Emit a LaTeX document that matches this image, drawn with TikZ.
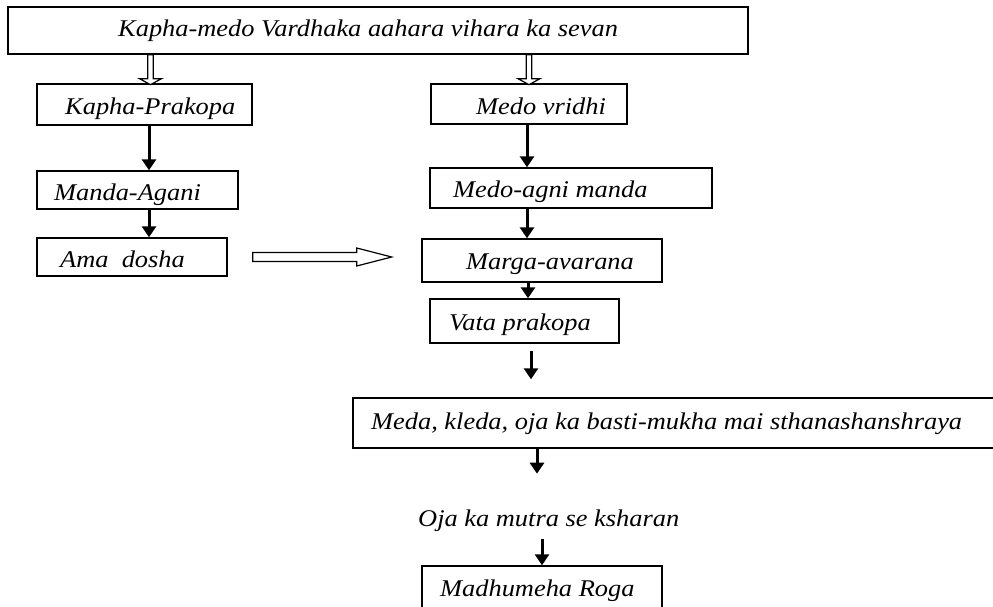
\documentclass[tikz,border=0pt]{standalone}
\usepackage{fontspec}
\setmainfont{Liberation Serif}[FakeStretch=1.1]
\usetikzlibrary{arrows.meta,calc}
\begin{document}
\begin{tikzpicture}[x=1pt,y=-1pt,
  box/.style={draw=black,line width=1.4pt,rectangle,inner sep=0pt,fill=none},
  txt/.style={inner sep=0pt,anchor=base west,font=\fontsize{24}{28}\selectfont\itshape},
  sarrow/.style={line width=3pt,-{Triangle[length=11pt,width=14pt]}},
  hollow/.style={draw=black,line width=1.2pt,fill=white,line join=miter}]
\useasboundingbox (0,0) rectangle (993,607);
% boxes
\node[box,minimum width=740pt,minimum height=47pt] (top) at (378,30.5) {};
\node[box,minimum width=215pt,minimum height=41pt] (kp) at (144.5,104.5) {};
\node[box,minimum width=196pt,minimum height=40pt] (mv) at (529,104) {};
\node[box,minimum width=201pt,minimum height=38pt] (ma) at (137.5,190) {};
\node[box,minimum width=282pt,minimum height=40pt] (mam) at (571,188) {};
\node[box,minimum width=190pt,minimum height=38pt] (ad) at (132,257) {};
\node[box,minimum width=240pt,minimum height=43pt] (mav) at (542,260.5) {};
\node[box,minimum width=189pt,minimum height=44pt] (vp) at (524.5,321) {};
\node[box,minimum width=650pt,minimum height=50pt] (meda) at (678,423) {};
\node[box,minimum width=240pt,minimum height=50pt] (madh) at (542,591) {};
% texts
\node[txt] (topt) at (118,37) {Kapha-medo Vardhaka aahara vihara ka sevan};
\node[txt] (kpt) at (65,115) {Kapha-Prakopa};
\node[txt] (mvt) at (476,115) {Medo vridhi};
\node[txt] (mat) at (54,200) {Manda-Agani};
\node[txt] (adt) at (60,267) {Ama\ \ dosha};
\node[txt] (mamt) at (453,197) {Medo-agni manda};
\node[txt] (mavt) at (466,269) {Marga-avarana};
\node[txt] (vpt) at (449,330) {Vata prakopa};
\node[txt] (medat) at (371,429) {Meda, kleda, oja ka basti-mukha mai sthanashanshraya};
\node[txt] (oja) at (418,526) {Oja ka mutra se ksharan};
\node[txt] (madht) at (440,596) {Madhumeha Roga};
% x positions of connectors
\coordinate (xL) at (149,0);
\coordinate (xH1) at (150.5,0);
\coordinate (xH2) at (529,0);
\coordinate (xR1) at (527,0);
\coordinate (xR2) at (528,0);
\coordinate (xR3) at (531,0);
\coordinate (xR4) at (537,0);
\coordinate (xR5) at (542,0);
% hollow arrows
\draw[hollow] (top.south -| xH1) ++(-2.8,0) -- ++(0,24) -- ++(-8.2,0) -- ++(11,6) -- ++(11,-6) -- ++(-8.2,0) -- ++(0,-24) -- cycle;
\draw[hollow] (top.south -| xH2) ++(-2.8,0) -- ++(0,24) -- ++(-8.2,0) -- ++(11,6) -- ++(11,-6) -- ++(-8.2,0) -- ++(0,-24) -- cycle;
\draw[hollow] (ad.east) ++(25,-4.5) -- ++(104,0) -- ++(0,-4.5) -- ++(35,9) -- ++(-35,9) -- ++(0,-4.5) -- ++(-104,0) -- cycle;
% solid arrows
\draw[sarrow] (kp.south -| xL) -- (ma.north -| xL);
\draw[sarrow] (ma.south -| xL) -- (ad.north -| xL);
\draw[sarrow] (mv.south -| xR1) -- (mam.north -| xR1);
\draw[sarrow] (mam.south -| xR1) -- (mav.north -| xR1);
\draw[sarrow] (mav.south -| xR2) -- (vp.north -| xR2);
\draw[sarrow,shorten <=7pt,shorten >=18pt] (vp.south -| xR3) -- (meda.north -| xR3);
\draw[sarrow] (meda.south -| xR4) -- ++(0,25);
\draw[sarrow,shorten <=8pt] (oja.south -| xR5) -- (madh.north -| xR5);
\end{tikzpicture}
\end{document}
